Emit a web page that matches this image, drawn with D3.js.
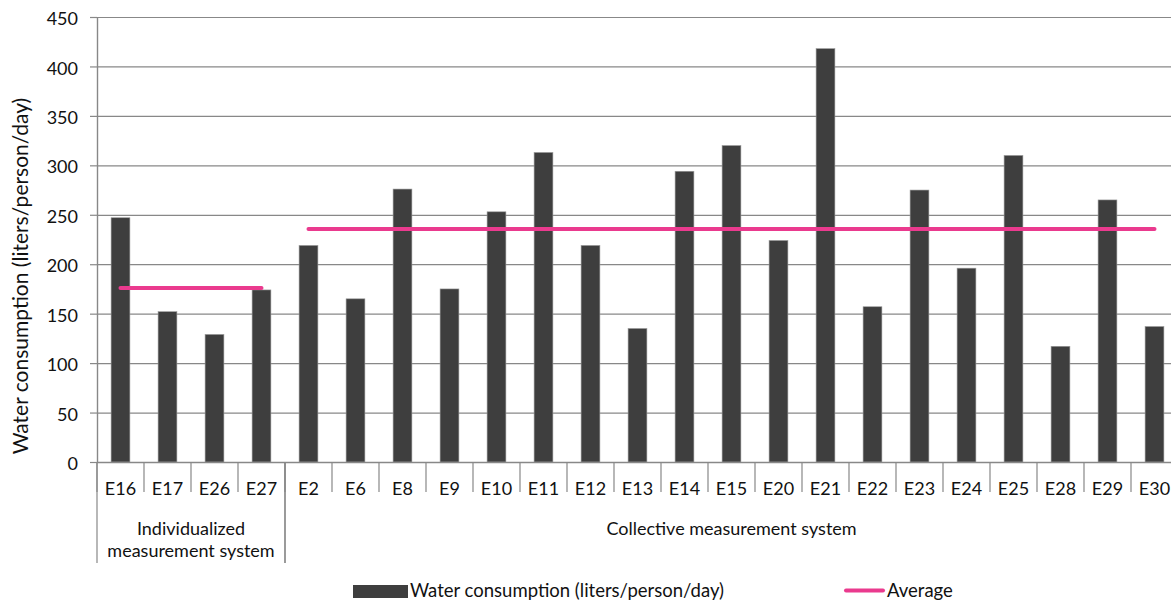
<!DOCTYPE html>
<html>
<head>
<meta charset="utf-8">
<script src="https://cdn.jsdelivr.net/npm/d3@7"></script>
<style>
  html, body { margin: 0; padding: 0; background: #fff; }
  svg { display: block; font-family: Lato, "Open Sans", sans-serif; }
</style>
</head>
<body>
<svg id="chart" width="1171" height="601"></svg>
<script>
// ---- data ----
const categories = ["E16","E17","E26","E27","E2","E6","E8","E9","E10","E11","E12","E13","E14","E15","E20","E21","E22","E23","E24","E25","E28","E29","E30"];
const consumption = [247,152,129,174,219,165,276,175,253,313,219,135,294,320,224,418,157,275,196,310,117,265,137];
const groupLabels = [["Individualized","measurement system"],["Collective measurement system"]];
const groupFirst = ["E16","E2"];
const groupLast = ["E27","E30"];
const groupAverage = [176, 235.5];
const yTicks = [0,50,100,150,200,250,300,350,400,450];
const seriesNames = ["Water consumption (liters/person/day)", "Average"];
const yTitle = "Water consumption (liters/person/day)";

(function () {
// ---- layout ----
const plotLeft = 97, plotRight = 1178, plotTop = 17, plotBottom = 462;
const gridColor = "#888888";
const barColor = "#3e3e3e";
const pink = "#ea3a8e";
const fs = 18;

const svg = d3.select("#chart");

const x = d3.scaleBand().domain(categories).range([plotLeft, plotRight]).paddingInner(0.6).paddingOuter(0.3);
const y = d3.scaleLinear().domain([0, 450]).range([plotBottom, plotTop]);

// gridlines
svg.append("g").selectAll("line").data(yTicks.filter(d => d > 0)).join("line")
  .attr("x1", plotLeft).attr("x2", plotRight)
  .attr("y1", d => y(d) + 0.5).attr("y2", d => y(d) + 0.5)
  .attr("stroke", gridColor).attr("stroke-width", 1.2);

// y axis
const yAxis = d3.axisLeft(y).tickValues(yTicks).tickSize(7).tickPadding(12).tickSizeOuter(0);
const ya = svg.append("g").attr("transform", `translate(${plotLeft},0)`).call(yAxis);
ya.select(".domain").attr("stroke", gridColor).attr("stroke-width", 1.4);
ya.selectAll(".tick line").attr("stroke", gridColor).attr("stroke-width", 1.2);
ya.selectAll(".tick text").attr("font-size", fs).attr("fill", "#111").attr("font-family", "Lato").attr("dy", "0.42em");

// bars
svg.append("g").selectAll("rect").data(categories).join("rect")
  .attr("x", d => x(d))
  .attr("width", x.bandwidth())
  .attr("y", (d, i) => y(consumption[i]))
  .attr("height", (d, i) => y(0) - y(consumption[i]))
  .attr("fill", barColor)
  .attr("stroke", "#9a9a9a").attr("stroke-width", 0.6);

// x axis line
svg.append("line").attr("x1", plotLeft).attr("x2", plotRight)
  .attr("y1", plotBottom + 0.5).attr("y2", plotBottom + 0.5)
  .attr("stroke", gridColor).attr("stroke-width", 1.4);

// category separators
const step = x.step();
const boundaries = categories.map(c => x(c) - x.paddingOuter() * step);
svg.append("g").selectAll("line").data(boundaries).join("line")
  .attr("x1", d => d).attr("x2", d => d)
  .attr("y1", plotBottom).attr("y2", plotBottom + 30)
  .attr("stroke", gridColor).attr("stroke-width", 1.2);

// category labels
svg.append("g").selectAll("text").data(categories).join("text")
  .attr("x", d => x(d) + x.bandwidth() / 2)
  .attr("y", 495)
  .attr("text-anchor", "middle")
  .attr("font-size", fs).attr("fill", "#111")
  .text(d => d);

// group brackets and labels
const gStart = groupFirst.map(c => x(c) - x.paddingOuter() * step);
const gEnd = groupLast.map(c => x(c) + x.bandwidth() + x.paddingOuter() * step);
const gLines = Array.from(new Set([...gStart, ...gEnd]));
svg.append("g").selectAll("line").data(gLines).join("line")
  .attr("x1", d => d).attr("x2", d => d)
  .attr("y1", plotBottom).attr("y2", 563)
  .attr("stroke", gridColor).attr("stroke-width", 1.2);

groupLabels.forEach((lines, gi) => {
  const cx = (gStart[gi] + gEnd[gi]) / 2;
  const t = svg.append("text").attr("text-anchor", "middle").attr("font-size", fs).attr("fill", "#111");
  lines.forEach((ln, li) => {
    t.append("tspan").attr("x", cx).attr("y", 535 + li * 22).text(ln);
  });
});

// average lines
svg.append("g").selectAll("line").data(groupAverage).join("line")
  .attr("x1", (d, i) => x(groupFirst[i]) + x.bandwidth() / 2)
  .attr("x2", (d, i) => x(groupLast[i]) + x.bandwidth() / 2)
  .attr("y1", d => y(d)).attr("y2", d => y(d))
  .attr("stroke", pink).attr("stroke-width", 4).attr("stroke-linecap", "round");

// y-axis title
svg.append("text")
  .attr("transform", `translate(28, 276) rotate(-90)`)
  .attr("text-anchor", "middle")
  .attr("font-size", 21).attr("fill", "#111")
  .text(yTitle);

// legend
const lg = svg.append("g");
lg.append("rect").attr("x", 353).attr("y", 585).attr("width", 55).attr("height", 13).attr("fill", barColor);
lg.append("text").attr("x", 410).attr("y", 597).attr("font-size", 18.5).attr("fill", "#111").text(seriesNames[0]);
lg.append("line").attr("x1", 846).attr("x2", 883).attr("y1", 590.5).attr("y2", 590.5)
  .attr("stroke", pink).attr("stroke-width", 4).attr("stroke-linecap", "round");
lg.append("text").attr("x", 887).attr("y", 597).attr("font-size", 18.5).attr("fill", "#111").text(seriesNames[1]);
})();
</script>
</body>
</html>
